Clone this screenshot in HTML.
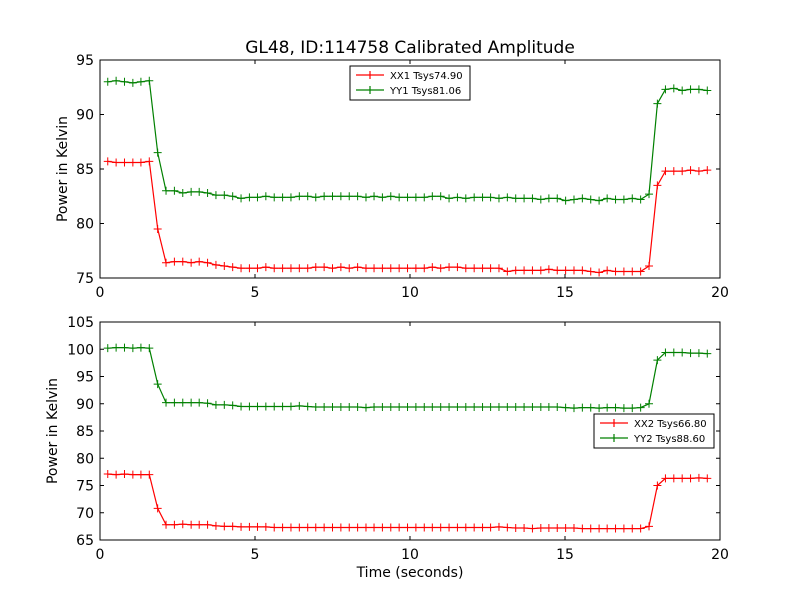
<!DOCTYPE html>
<html><head><meta charset="utf-8"><style>
body{margin:0;background:#fff}
text{font-family:"DejaVu Sans","Liberation Sans",sans-serif}
</style></head><body>
<svg id="fig" width="800" height="600" xmlns="http://www.w3.org/2000/svg">
<rect width="800" height="600" fill="#fff"/>
<text x="410" y="53" font-size="17" text-anchor="middle">GL48, ID:114758 Calibrated Amplitude</text>
<g id="p1"></g>
<g id="p2"></g>
<text x="410" y="577" font-size="14" text-anchor="middle">Time (seconds)</text>
</svg>
<script>
const times=[0.25,0.52,0.79,1.06,1.32,1.59,1.86,2.13,2.40,2.67,2.94,3.20,3.47,3.74,4.01,4.28,4.55,4.82,5.08,5.35,5.62,5.89,6.16,6.43,6.70,6.96,7.23,7.50,7.77,8.04,8.31,8.58,8.84,9.11,9.38,9.65,9.92,10.19,10.46,10.72,10.99,11.26,11.53,11.80,12.07,12.34,12.60,12.87,13.14,13.41,13.68,13.95,14.22,14.48,14.75,15.02,15.29,15.56,15.83,16.10,16.36,16.63,16.90,17.17,17.44,17.71,17.98,18.24,18.51,18.78,19.05,19.32,19.59];
const xx1=[85.7,85.6,85.6,85.6,85.6,85.7,79.5,76.4,76.5,76.5,76.4,76.5,76.4,76.2,76.1,76.0,75.9,75.9,75.9,76.0,75.9,75.9,75.9,75.9,75.9,76.0,76.0,75.9,76.0,75.9,76.0,75.9,75.9,75.9,75.9,75.9,75.9,75.9,75.9,76.0,75.9,76.0,76.0,75.9,75.9,75.9,75.9,75.9,75.6,75.7,75.7,75.7,75.7,75.8,75.7,75.7,75.7,75.7,75.6,75.5,75.7,75.6,75.6,75.6,75.6,76.1,83.5,84.8,84.8,84.8,84.9,84.8,84.9];
const yy1=[93.0,93.1,93.0,92.9,93.0,93.1,86.5,83.0,83.0,82.8,82.9,82.9,82.8,82.6,82.6,82.5,82.3,82.4,82.4,82.5,82.4,82.4,82.4,82.5,82.5,82.4,82.5,82.5,82.5,82.5,82.5,82.4,82.5,82.4,82.5,82.4,82.4,82.4,82.4,82.5,82.5,82.3,82.4,82.3,82.4,82.4,82.4,82.3,82.4,82.3,82.3,82.3,82.2,82.3,82.3,82.1,82.2,82.3,82.2,82.1,82.3,82.2,82.2,82.3,82.2,82.7,91.0,92.3,92.4,92.2,92.3,92.3,92.2];
const xx2=[77.1,77.0,77.1,77.0,77.0,77.0,70.8,67.8,67.8,67.9,67.8,67.8,67.8,67.6,67.5,67.5,67.4,67.4,67.4,67.4,67.3,67.3,67.3,67.3,67.3,67.3,67.3,67.3,67.3,67.3,67.3,67.3,67.3,67.3,67.3,67.3,67.3,67.3,67.3,67.3,67.3,67.3,67.3,67.3,67.3,67.3,67.3,67.4,67.3,67.2,67.2,67.1,67.2,67.2,67.2,67.2,67.2,67.1,67.1,67.1,67.1,67.1,67.1,67.1,67.1,67.5,75.0,76.3,76.3,76.3,76.3,76.4,76.3];
const yy2=[100.2,100.3,100.3,100.2,100.3,100.2,93.6,90.2,90.2,90.2,90.2,90.2,90.1,89.8,89.8,89.7,89.5,89.5,89.5,89.5,89.5,89.5,89.5,89.6,89.5,89.4,89.4,89.4,89.4,89.4,89.4,89.3,89.4,89.4,89.4,89.4,89.4,89.4,89.4,89.4,89.4,89.4,89.4,89.4,89.4,89.4,89.4,89.4,89.4,89.4,89.4,89.4,89.4,89.4,89.4,89.3,89.2,89.3,89.3,89.2,89.3,89.3,89.2,89.2,89.3,90.0,98.0,99.4,99.4,99.4,99.3,99.3,99.2];
const xTicks=[0,5,10,15,20];
const yTicks1=[75,80,85,90,95];
const yTicks2=[65,70,75,80,85,90,95,100,105];
const NS="http://www.w3.org/2000/svg";
function mk(parent,tag,attrs){const e=document.createElementNS(NS,tag);for(const k in attrs)e.setAttribute(k,attrs[k]);parent.appendChild(e);return e;}
function panel(g,top,bottom,ymin,ymax,yTicks,series,legend,pname){
  const L=100,R=720;
  const sx=t=>L+(t-0)/(20-0)*(R-L);
  const sy=v=>bottom-(v-ymin)/(ymax-ymin)*(bottom-top);
  for(const s of series){
    const pts=s.vals.map((v,i)=>sx(times[i]).toFixed(1)+','+sy(v).toFixed(1)).join(' ');
    const pl=mk(g,'polyline',{points:pts,fill:'none',stroke:s.color,'stroke-width':1.2});
    
    
    s.vals.forEach((v,i)=>{
      const x=sx(times[i]),y=sy(v);
      const m=mk(g,'path',{d:`M${x-4},${y}H${x+4}M${x},${y-4}V${y+4}`,stroke:s.color,'stroke-width':1});
      
      
    });
  }
  const fr=mk(g,'rect',{x:L,y:top,width:R-L,height:bottom-top,fill:'none',stroke:'#000','stroke-width':1});
  
  
  for(const t of xTicks){
    const x=sx(t);
    mk(g,'path',{d:`M${x},${bottom}v-4M${x},${top}v4`,stroke:'#000'});
    const tx=mk(g,'text',{x:x,y:bottom+19,'font-size':14,'text-anchor':'middle'});
    
    
    tx.textContent=t;
  }
  for(const v of yTicks){
    const y=sy(v);
    mk(g,'path',{d:`M${L},${y}h4M${R},${y}h-4`,stroke:'#000'});
    const tx=mk(g,'text',{x:L-6,y:y+5,'font-size':14,'text-anchor':'end'});
    
    
    tx.textContent=v;
  }
  const yl=mk(g,'text',{x:0,y:0,'font-size':14,'text-anchor':'middle',transform:`translate(${legend.yl},${(top+bottom)/2}) rotate(-90)`});
  
  
  yl.textContent='Power in Kelvin';
  const lg=mk(g,'g',{});
  
  
  mk(lg,'rect',{x:legend.x,y:legend.y,width:120,height:34,fill:'#fff',stroke:'#000'});
  series.forEach((s,i)=>{
    const y=legend.y+9+i*15;
    mk(lg,'path',{d:`M${legend.x+6},${y}h28M${legend.x+20},${y-4}v8`,stroke:s.color,'stroke-width':1.2});
    const t=mk(lg,'text',{x:legend.x+40,y:y+4,'font-size':10});
    
    
    t.textContent=s.label;
  });
}
panel(document.getElementById('p1'),60,278,75,95,yTicks1,
 [{vals:xx1,color:'#ff0000',name:'xx1',label:'XX1 Tsys74.90'},{vals:yy1,color:'#008000',name:'yy1',label:'YY1 Tsys81.06'}],
 {x:350,y:66,yl:67},'top-plot');
panel(document.getElementById('p2'),322,540,65,105,yTicks2,
 [{vals:xx2,color:'#ff0000',name:'xx2',label:'XX2 Tsys66.80'},{vals:yy2,color:'#008000',name:'yy2',label:'YY2 Tsys88.60'}],
 {x:594,y:414,yl:57},'bottom-plot');
</script>
</body></html>
